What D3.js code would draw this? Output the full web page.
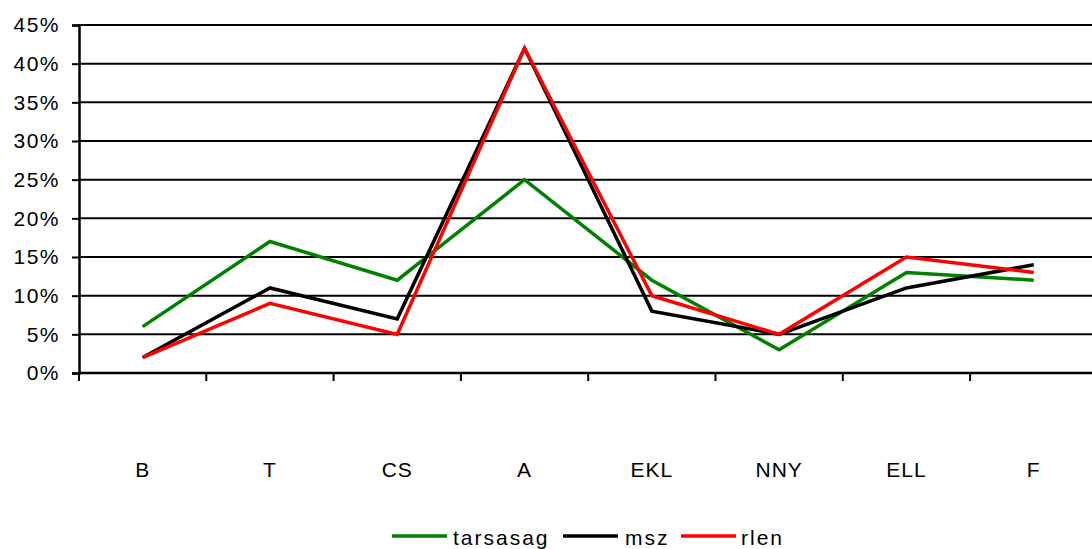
<!DOCTYPE html>
<html>
<head>
<meta charset="utf-8">
<script src="https://cdn.jsdelivr.net/npm/d3@7"></script>
<style>
  html, body { margin: 0; padding: 0; background: #fff; }
  svg { display: block; font-family: "Liberation Sans", Arial, sans-serif; }
</style>
</head>
<body>
<svg id="chart" width="1092" height="549"></svg>
<script>
const categories = ["B", "T", "CS", "A", "EKL", "NNY", "ELL", "F"];
const seriesNames = ["tarsasag", "msz", "rlen"];
const seriesColors = ["#008000", "#000000", "#ff0000"];
const tarsasag = [6, 17, 12, 25, 12, 3, 13, 12];
const msz = [2, 11, 7, 42, 8, 5, 11, 14];
const rlen = [2, 9, 5, 42, 10, 5, 15, 13];
const yTicks = [0, 5, 10, 15, 20, 25, 30, 35, 40, 45];

const series = [tarsasag, msz, rlen].map((v, i) => ({ name: seriesNames[i], color: seriesColors[i], values: v }));

const svg = d3.select("#chart");
const plotLeft = 79, plotTop = 25, plotBottom = 373, bandW = 127.3;
const plotRight = plotLeft + bandW * categories.length;

const x = d3.scaleBand().domain(categories).range([plotLeft, plotRight]);
const y = d3.scaleLinear().domain([0, 45]).range([plotBottom, plotTop]);

// horizontal gridlines
svg.append("g").selectAll("line").data(yTicks.filter(d => d > 0)).join("line")
  .attr("x1", plotLeft).attr("x2", 1092)
  .attr("y1", d => y(d)).attr("y2", d => y(d))
  .attr("stroke", "#000").attr("stroke-width", 2);

// y axis
const yAxis = svg.append("g").attr("transform", `translate(${plotLeft},0)`)
  .call(d3.axisLeft(y).tickValues(yTicks).tickSize(7).tickPadding(12).tickFormat(d => d + "%"));
yAxis.select(".domain").attr("stroke-width", 2.5);
yAxis.selectAll(".tick line").attr("stroke-width", 2);
yAxis.selectAll("text").attr("font-size", 21).attr("letter-spacing", 1.5).attr("fill", "#000")
  .attr("font-family", "Liberation Sans, Arial, sans-serif");

// x axis: ticks between categories
const bounds = categories.map(c => x(c)).concat([plotRight]);
svg.append("line").attr("x1", plotLeft).attr("x2", 1092).attr("y1", plotBottom).attr("y2", plotBottom)
  .attr("stroke", "#000").attr("stroke-width", 2.5);
svg.append("g").selectAll("line").data(bounds).join("line")
  .attr("x1", d => d).attr("x2", d => d).attr("y1", plotBottom).attr("y2", plotBottom + 8)
  .attr("stroke", "#000").attr("stroke-width", 2);
svg.append("g").selectAll("text").data(categories).join("text")
  .attr("x", d => x(d) + x.bandwidth() / 2).attr("y", 477)
  .attr("text-anchor", "middle").attr("font-size", 21).attr("letter-spacing", 1).text(d => d);

// lines
const line = d3.line().x((d, i) => x(categories[i]) + x.bandwidth() / 2).y(d => y(d));
svg.append("g").selectAll("path").data(series).join("path")
  .attr("d", d => line(d.values)).attr("fill", "none")
  .attr("stroke", d => d.color).attr("stroke-width", 3.5).attr("stroke-linejoin", "miter");

// legend
const legendItems = [
  { lx: 392, tx: 453 },
  { lx: 563, tx: 625 },
  { lx: 681, tx: 741 }
];
const lg = svg.append("g");
series.forEach((s, i) => {
  const p = legendItems[i];
  lg.append("line").attr("x1", p.lx).attr("x2", p.lx + 55).attr("y1", 536).attr("y2", 536)
    .attr("stroke", s.color).attr("stroke-width", 3.5);
  lg.append("text").attr("x", p.tx).attr("y", 545).attr("font-size", 21).attr("letter-spacing", 2).text(s.name);
});
</script>
</body>
</html>
